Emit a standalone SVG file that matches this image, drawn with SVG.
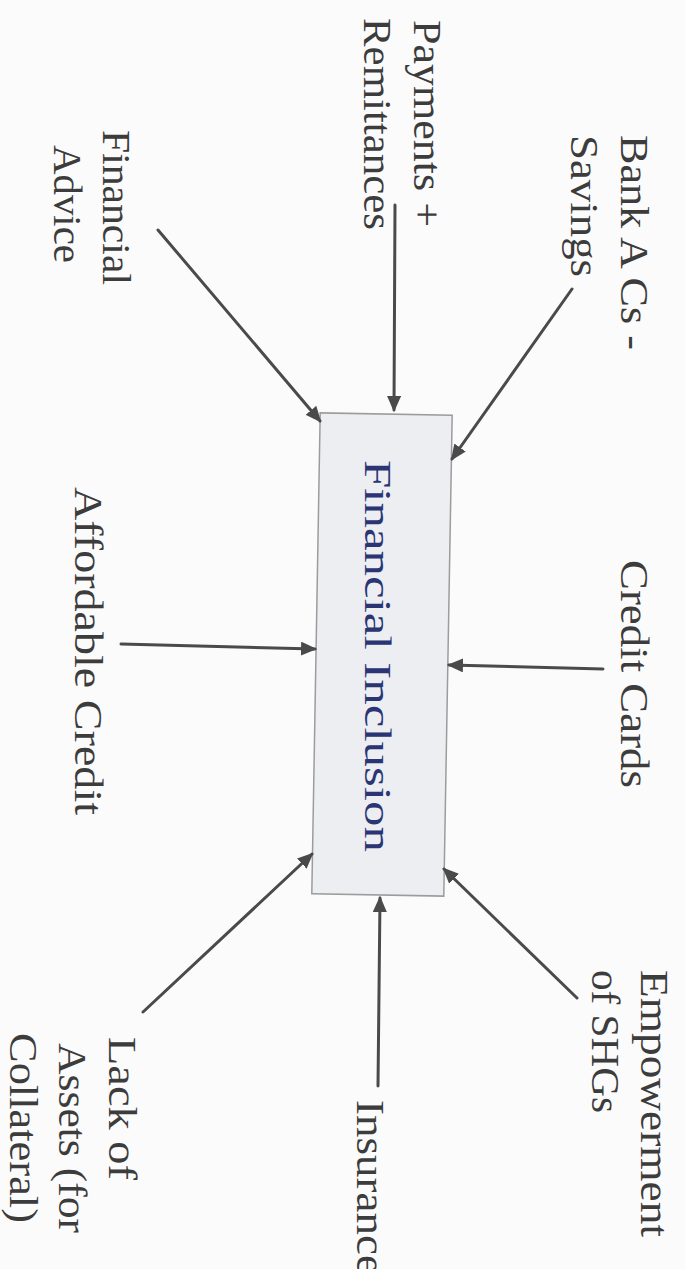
<svg xmlns="http://www.w3.org/2000/svg" width="685" height="1269" viewBox="0 0 685 1269">
<defs>
<style>
.lbl{font-family:"Liberation Serif","Times New Roman",serif;font-size:39px;fill:#3c3c3c}
.main{font-family:"Liberation Serif","Times New Roman",serif;font-size:38px;fill:#2b3574}
.conn line{stroke:#4a4a4a;stroke-width:3;stroke-linecap:round;marker-end:url(#ah)}
</style>
<marker id="ah" markerUnits="userSpaceOnUse" markerWidth="16" markerHeight="14" refX="14" refY="7" orient="auto">
<path d="M0,0 L16,7 L0,14 Z" fill="#4a4a4a"/>
</marker>
</defs>
<rect width="685" height="1269" fill="#fbfbfb"/>
<g id="center">
<rect x="316" y="414" width="132" height="481" fill="#eceef2" stroke="#9c9c9c" stroke-width="1.5" transform="rotate(1 382 654)"/>
<text class="main" transform="translate(365,460) rotate(90)" textLength="392" lengthAdjust="spacingAndGlyphs">Financial Inclusion</text>
</g>
<g id="n-bank">
<text class="lbl" transform="translate(621,135) rotate(90)" textLength="215" lengthAdjust="spacingAndGlyphs">Bank A Cs -</text>
<text class="lbl" transform="translate(571,135) rotate(90)" textLength="142" lengthAdjust="spacingAndGlyphs">Savings</text>
</g>
<g id="n-payments">
<text class="lbl" transform="translate(414,20) rotate(90)" textLength="207" lengthAdjust="spacingAndGlyphs">Payments +</text>
<text class="lbl" transform="translate(364,18) rotate(90)" textLength="212" lengthAdjust="spacingAndGlyphs">Remittances</text>
</g>
<g id="n-advice">
<text class="lbl" transform="translate(103,130) rotate(90)" textLength="155" lengthAdjust="spacingAndGlyphs">Financial</text>
<text class="lbl" transform="translate(54,145) rotate(90)" textLength="118" lengthAdjust="spacingAndGlyphs">Advice</text>
</g>
<g id="n-credit-cards">
<text class="lbl" transform="translate(621,560) rotate(90)" textLength="228" lengthAdjust="spacingAndGlyphs">Credit Cards</text>
</g>
<g id="n-affordable">
<text class="lbl" transform="translate(75,487) rotate(90)" textLength="328" lengthAdjust="spacingAndGlyphs">Affordable Credit</text>
</g>
<g id="n-shg">
<text class="lbl" transform="translate(641,970) rotate(90)" textLength="267" lengthAdjust="spacingAndGlyphs">Empowerment</text>
<text class="lbl" transform="translate(592,970) rotate(90)" textLength="143" lengthAdjust="spacingAndGlyphs">of SHGs</text>
</g>
<g id="n-insurance">
<text class="lbl" transform="translate(357,1100) rotate(90)" textLength="175" lengthAdjust="spacingAndGlyphs">Insurance</text>
</g>
<g id="n-assets">
<text class="lbl" transform="translate(109,1037) rotate(90)" textLength="143" lengthAdjust="spacingAndGlyphs">Lack of</text>
<text class="lbl" transform="translate(59,1043) rotate(90)" textLength="190" lengthAdjust="spacingAndGlyphs">Assets (for</text>
<text class="lbl" transform="translate(10,1033) rotate(90)" textLength="190" lengthAdjust="spacingAndGlyphs">Collateral)</text>
</g>
<g id="connectors" class="conn">
<line x1="572" y1="289" x2="452" y2="459"/>
<line x1="395" y1="205" x2="394" y2="410"/>
<line x1="158" y1="230" x2="320" y2="421"/>
<line x1="603" y1="669" x2="449" y2="665"/>
<line x1="121" y1="644" x2="315" y2="649"/>
<line x1="577" y1="998" x2="444" y2="869"/>
<line x1="378" y1="1086" x2="380" y2="898"/>
<line x1="143" y1="1012" x2="312" y2="854"/>
</g>
</svg>
